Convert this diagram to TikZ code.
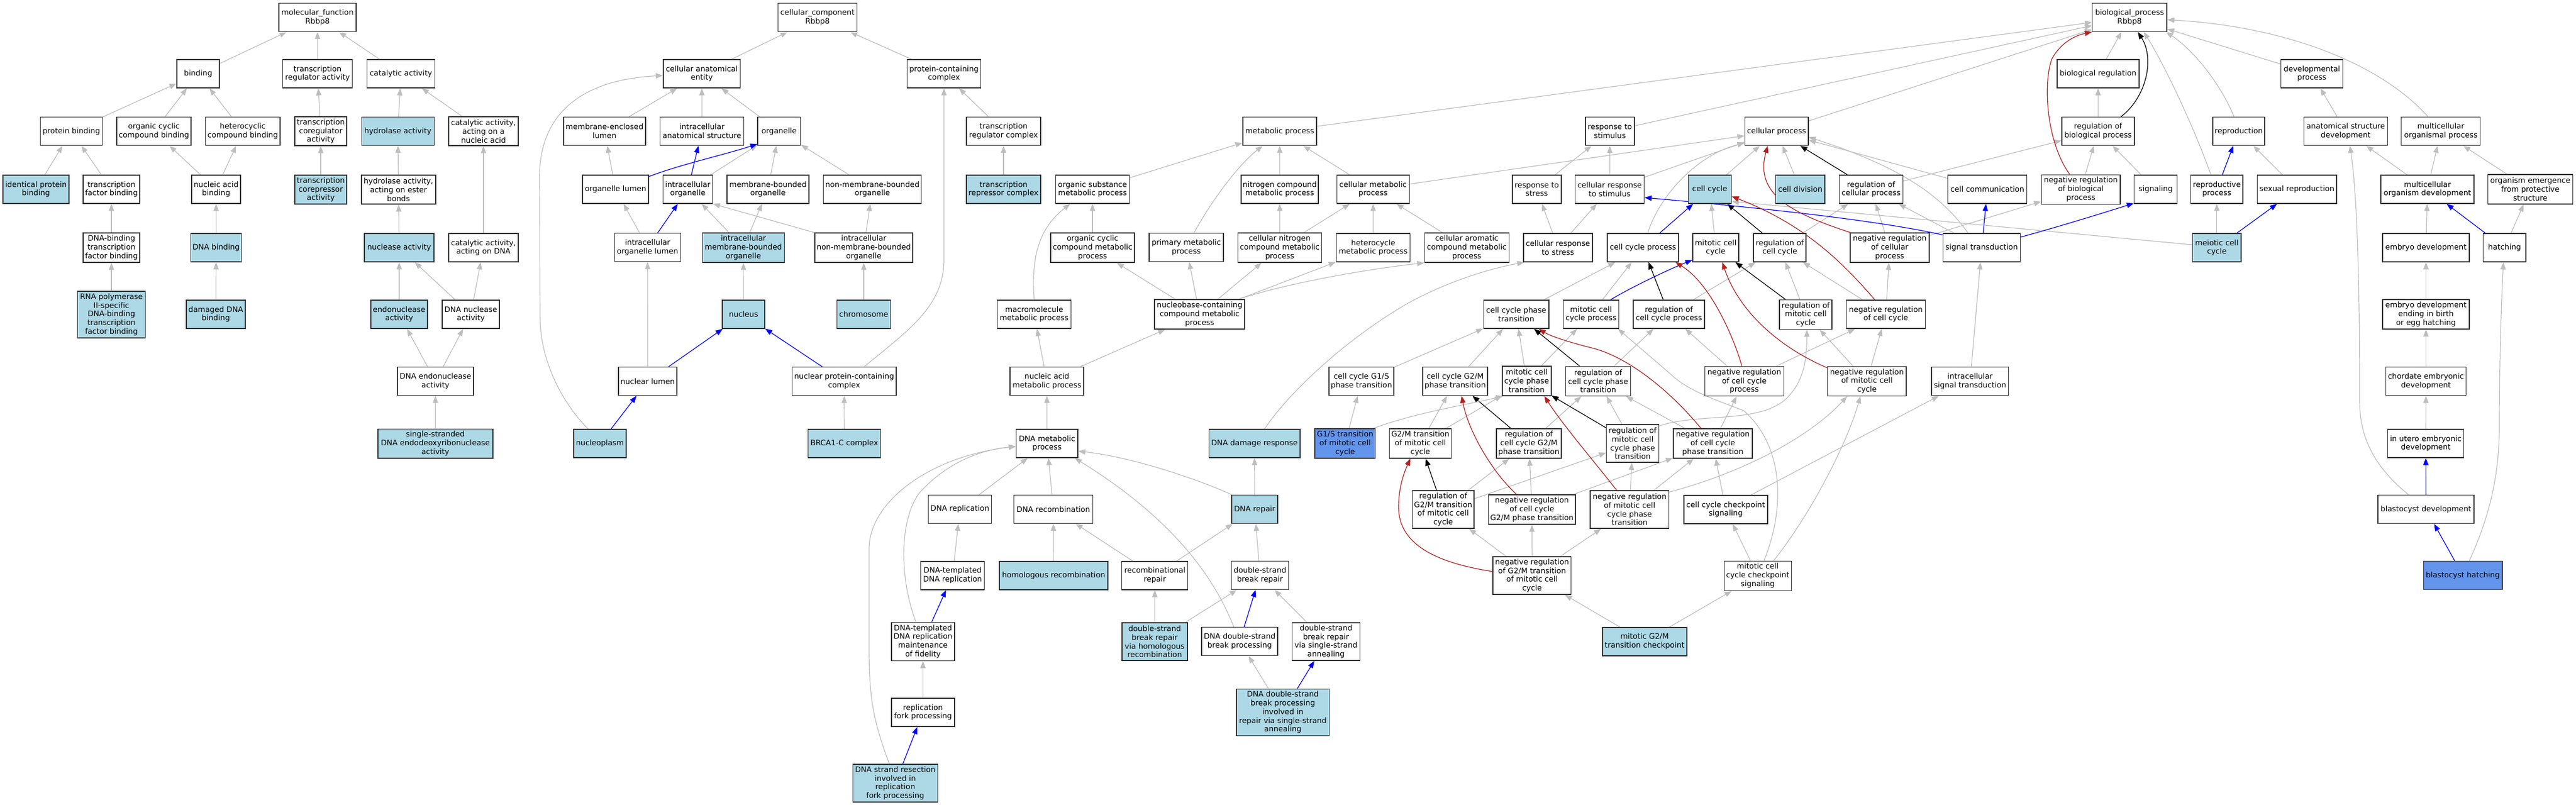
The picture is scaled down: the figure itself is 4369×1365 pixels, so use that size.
\documentclass[tikz,border=0pt]{standalone}
\usepackage{fontspec}
\setmainfont{DejaVu Sans}
\usetikzlibrary{arrows.meta,calc,backgrounds}
\definecolor{lbc}{HTML}{ADD8E6}
\definecolor{cfc}{HTML}{6495ED}
\definecolor{egc}{HTML}{BEBEBE}
\definecolor{fbc}{HTML}{B22222}
\definecolor{nbc}{HTML}{333333}
\tikzset{
 gobox/.style={draw=nbc, line width=1.4pt, rectangle, inner sep=0pt, align=center, font=\fontsize{12.8}{14.8}\selectfont},
 wt/.style={fill=white}, lbf/.style={fill=lbc}, cff/.style={fill=cfc},
 gtip/.style={-{Triangle[length=12pt,width=9pt]}},
 egray/.style={draw=egc, line width=1.2pt, gtip},
 eblue/.style={draw=blue, line width=1.2pt, gtip},
 eblack/.style={draw=black, line width=1.2pt, gtip},
 ered/.style={draw=fbc, line width=1.2pt, gtip},
}
\newcommand{\gn}[7]{\node[gobox,#6,minimum width=#4pt,minimum height=#5pt] (#1) at (#2,#3) {#7};}
\begin{document}
\begin{tikzpicture}[x=1pt,y=-1pt]
\useasboundingbox (0,0) rectangle (4369,1365);
% ---------- molecular function
\gn{mf}{538.5}{29.5}{131}{48}{wt}{molecular\_function\\Rbbp8}
\gn{bind}{336}{125}{72}{48}{wt}{binding}
\gn{tra}{538.5}{125}{118}{48}{wt}{transcription\\regulator activity}
\gn{cat}{680}{125}{115}{48}{wt}{catalytic activity}
\gn{pb}{121}{222.5}{104.5}{48}{wt}{protein binding}
\gn{occb}{261}{222.5}{126}{48}{wt}{organic cyclic\\compound binding}
\gn{hcb}{411.7}{222.5}{126.5}{48}{wt}{heterocyclic\\compound binding}
\gn{tcoa}{544}{222.5}{88}{49}{wt}{transcription\\coregulator\\activity}
\gn{hyd}{674.7}{222.5}{123}{48}{lbf}{hydrolase activity}
\gn{cana}{820}{222.5}{118}{49}{wt}{catalytic activity,\\acting on a\\nucleic acid}
\gn{ipb}{61}{321}{112}{48}{lbf}{identical protein\\binding}
\gn{tfb}{189}{321}{96}{48}{wt}{transcription\\factor binding}
\gn{nab}{366.5}{321}{83}{48}{wt}{nucleic acid\\binding}
\gn{tcra}{544}{321.5}{88}{49}{lbf}{transcription\\corepressor\\activity}
\gn{hyde}{675.8}{321.5}{126}{49}{wt}{hydrolase activity,\\acting on ester\\bonds}
\gn{dtfb}{189}{420}{96}{50}{wt}{DNA-binding\\transcription\\factor binding}
\gn{dnab}{366.6}{420}{86}{48}{lbf}{DNA binding}
\gn{nuca}{677}{420}{118}{48}{lbf}{nuclease activity}
\gn{cad}{820}{420}{118}{48}{wt}{catalytic activity,\\acting on DNA}
\gn{rnap}{189}{533.3}{115}{79}{lbf}{RNA polymerase\\II-specific\\DNA-binding\\transcription\\factor binding}
\gn{ddb}{366}{533}{100}{48}{lbf}{damaged DNA\\binding}
\gn{endo}{677}{533}{96}{48}{lbf}{endonuclease\\activity}
\gn{dnuc}{798.5}{533}{97}{48}{wt}{DNA nuclease\\activity}
\gn{dendo}{738.5}{646.5}{129}{48}{wt}{DNA endonuclease\\activity}
\gn{ssde}{738.4}{752}{195}{49.6}{lbf}{single-stranded\\DNA endodeoxyribonuclease\\activity}
% ---------- cellular component
\gn{cc}{1386.5}{29.5}{134}{48}{wt}{cellular\_component\\Rbbp8}
\gn{cae}{1190.3}{125}{130.6}{48}{wt}{cellular anatomical\\entity}
\gn{pcc}{1601}{125}{125.5}{48}{wt}{protein-containing\\complex}
\gn{mel}{1025.3}{222.5}{139}{48}{wt}{membrane-enclosed\\lumen}
\gn{ias}{1190.5}{222.5}{142}{48}{wt}{intracellular\\anatomical structure}
\gn{org}{1321.4}{222.5}{72.5}{48}{wt}{organelle}
\gn{trc}{1702}{222.5}{126}{48}{wt}{transcription\\regulator complex}
\gn{orgl}{1044}{321}{112}{48}{wt}{organelle lumen}
\gn{io}{1166.6}{321}{84}{48}{wt}{intracellular\\organelle}
\gn{mbo}{1302.5}{321}{139}{48}{wt}{membrane-bounded\\organelle}
\gn{nmbo}{1479.6}{321}{166}{48}{wt}{non-membrane-bounded\\organelle}
\gn{trepc}{1702}{321}{126}{48}{lbf}{transcription\\repressor complex}
\gn{iol}{1098.3}{419.6}{112}{48}{wt}{intracellular\\organelle lumen}
\gn{imbo}{1260.8}{420}{139}{50}{lbf}{intracellular\\membrane-bounded\\organelle}
\gn{inmbo}{1465}{420}{166}{50}{wt}{intracellular\\non-membrane-bounded\\organelle}
\gn{nucl}{1261}{533}{72}{48}{lbf}{nucleus}
\gn{chrom}{1465}{533}{91}{48}{lbf}{chromosome}
\gn{nlum}{1098.5}{646.5}{99}{48}{wt}{nuclear lumen}
\gn{npcc}{1431.7}{646.6}{176.6}{48}{wt}{nuclear protein-containing\\complex}
\gn{npl}{1017.4}{752}{89}{48}{lbf}{nucleoplasm}
\gn{brca}{1432}{752}{123}{48}{lbf}{BRCA1-C complex}
% ---------- metabolic / DNA
\gn{met}{2170.5}{222.5}{125}{48}{wt}{metabolic process}
\gn{osm}{1853}{321}{125.5}{48}{wt}{organic substance\\metabolic process}
\gn{ncm}{2170.5}{321}{131}{48}{wt}{nitrogen compound\\metabolic process}
\gn{cmp}{2328.8}{321}{123}{48}{wt}{cellular metabolic\\process}
\gn{occm}{1853}{420}{142}{50}{wt}{organic cyclic\\compound metabolic\\process}
\gn{pmp}{2012}{419.6}{126}{48}{wt}{primary metabolic\\process}
\gn{cncm}{2170.4}{420}{142}{50}{wt}{cellular nitrogen\\compound metabolic\\process}
\gn{hmp}{2329}{420}{125.5}{48}{wt}{heterocycle\\metabolic process}
\gn{cacm}{2487.7}{420}{143}{50}{wt}{cellular aromatic\\compound metabolic\\process}
\gn{mmp}{1754}{533}{125.5}{48}{wt}{macromolecule\\metabolic process}
\gn{nbcm}{2034.6}{533}{153}{50}{wt}{nucleobase-containing\\compound metabolic\\process}
\gn{nam}{1775.6}{646.6}{125}{48}{wt}{nucleic acid\\metabolic process}
\gn{dmp}{1775.8}{752}{104.5}{48}{wt}{DNA metabolic\\process}
\gn{ddr}{2127.7}{752}{154.5}{48}{lbf}{DNA damage response}
\gn{drep}{1628}{863.3}{107}{48}{wt}{DNA replication}
\gn{drec}{1786.5}{863.3}{134}{48}{wt}{DNA recombination}
\gn{drepair}{2128}{863.6}{78}{48}{lbf}{DNA repair}
\gn{dtdr}{1615.6}{975.8}{108}{48}{wt}{DNA-templated\\DNA replication}
\gn{hr}{1787}{975.8}{184}{48}{lbf}{homologous recombination}
\gn{rr}{1958.7}{975.8}{112}{48}{wt}{recombinational\\repair}
\gn{dsbr}{2137}{975.6}{96.5}{48}{wt}{double-strand\\break repair}
\gn{dtmf}{1565.4}{1087.7}{107}{65}{wt}{DNA-templated\\DNA replication\\maintenance\\of fidelity}
\gn{dsbhr}{1958.4}{1088}{111}{64}{lbf}{double-strand\\break repair\\via homologous\\recombination}
\gn{dsbp}{2102.5}{1087.6}{129}{48}{wt}{DNA double-strand\\break processing}
\gn{dsbssa}{2249}{1088}{115}{64}{wt}{double-strand\\break repair\\via single-strand\\annealing}
\gn{rfp}{1565.4}{1208}{107}{48}{wt}{replication\\fork processing}
\gn{dsbpssa}{2175.7}{1207.8}{157.6}{79}{lbf}{DNA double-strand\\break processing\\involved in\\repair via single-strand\\annealing}
\gn{dsr}{1518.4}{1328}{144}{64}{lbf}{DNA strand resection\\involved in\\replication\\fork processing}
% ---------- biological process
\gn{bp}{3611.8}{29.5}{126.4}{48}{wt}{biological\_process\\Rbbp8}
\gn{breg}{3558.4}{125}{139}{48}{wt}{biological regulation}
\gn{rbp}{3558.4}{222.5}{123}{48}{wt}{regulation of\\biological process}
\gn{cp}{3013.1}{222.5}{107.6}{48}{wt}{cellular process}
\gn{rs}{2730.4}{222.5}{83}{48}{wt}{response to\\stimulus}
\gn{rstress}{2606.4}{321}{83}{48}{wt}{response to\\stress}
\gn{crs}{2730}{321}{117}{48}{wt}{cellular response\\to stimulus}
\gn{ccyc}{2899.8}{321}{73}{48}{lbf}{cell cycle}
\gn{cdiv}{3053.3}{321}{83.7}{48}{lbf}{cell division}
\gn{rcp}{3173.4}{321}{107.6}{48}{wt}{regulation of\\cellular process}
\gn{ccom}{3370.7}{321}{134}{48}{wt}{cell communication}
\gn{nrbp}{3529.2}{321.2}{133.5}{50}{wt}{negative regulation\\of biological\\process}
\gn{sig}{3656}{321}{72.6}{48}{wt}{signaling}
\gn{crstress}{2642.3}{420}{117}{48}{wt}{cellular response\\to stress}
\gn{ccp}{2786.5}{420}{121}{48}{wt}{cell cycle process}
\gn{mcc}{2910}{420}{78}{48}{wt}{mitotic cell\\cycle}
\gn{rcc}{3018.6}{420}{89}{48}{wt}{regulation of\\cell cycle}
\gn{nrcp}{3205}{420}{134}{50}{wt}{negative regulation\\of cellular\\process}
\gn{st}{3361}{420}{131}{48}{wt}{signal transduction}
\gn{ccpt}{2571.6}{533}{110.7}{48}{wt}{cell cycle phase\\transition}
\gn{mccp}{2698.5}{533}{94}{48}{wt}{mitotic cell\\cycle process}
\gn{rccp}{2830.5}{533}{121}{48}{wt}{regulation of\\cell cycle process}
\gn{rmcc}{3062.6}{533.3}{89}{50}{wt}{regulation of\\mitotic cell\\cycle}
\gn{nrcc}{3198.4}{533}{134}{48}{wt}{negative regulation\\of cell cycle}
\gn{g1s}{2309}{646.6}{110}{48}{wt}{cell cycle G1/S\\phase transition}
\gn{g2m}{2468}{646.6}{110}{48}{wt}{cell cycle G2/M\\phase transition}
\gn{mccpt}{2589.3}{646}{83}{50}{wt}{mitotic cell\\cycle phase\\transition}
\gn{rccpt}{2710.5}{646.3}{110}{50}{wt}{regulation of\\cell cycle phase\\transition}
\gn{nrccp}{2958.3}{646.5}{134}{50}{wt}{negative regulation\\of cell cycle\\process}
\gn{nrmcc}{3166.3}{646.3}{133.5}{50}{wt}{negative regulation\\of mitotic cell\\cycle}
\gn{ist}{3341.3}{646.6}{130.6}{48}{wt}{intracellular\\signal transduction}
\gn{g1smcc}{2281.4}{752}{102.6}{50}{cff}{G1/S transition\\of mitotic cell\\cycle}
\gn{g2mmcc}{2409}{752}{105}{50}{wt}{G2/M transition\\of mitotic cell\\cycle}
\gn{rccg2m}{2593}{752}{110}{50}{wt}{regulation of\\cell cycle G2/M\\phase transition}
\gn{rmccpt}{2769}{752}{88.8}{64}{wt}{regulation of\\mitotic cell\\cycle phase\\transition}
\gn{nrccpt}{2905}{752}{134}{50}{wt}{negative regulation\\of cell cycle\\phase transition}
\gn{rg2m}{2447.7}{864}{104.6}{64}{wt}{regulation of\\G2/M transition\\of mitotic cell\\cycle}
\gn{nrccg2m}{2598.2}{864}{147.5}{50}{wt}{negative regulation\\of cell cycle\\G2/M phase transition}
\gn{nrmccpt}{2763.8}{864}{133.7}{64}{wt}{negative regulation\\of mitotic cell\\cycle phase\\transition}
\gn{cccs}{2926.8}{864}{142}{48}{wt}{cell cycle checkpoint\\signaling}
\gn{nrg2m}{2598.4}{976}{132.7}{64}{wt}{negative regulation\\of G2/M transition\\of mitotic cell\\cycle}
\gn{mcccs}{2981.2}{976.2}{114}{50}{wt}{mitotic cell\\cycle checkpoint\\signaling}
\gn{mg2mc}{2789.3}{1087.8}{143}{48}{lbf}{mitotic G2/M\\transition checkpoint}
% ---------- right part
\gn{dev}{3921}{125}{104.5}{48}{wt}{developmental\\process}
\gn{repro}{3796.9}{222.5}{87.8}{48}{wt}{reproduction}
\gn{asd}{3978.4}{222.5}{141.7}{48}{wt}{anatomical structure\\development}
\gn{mop}{4139.7}{222.5}{134}{48}{wt}{multicellular\\organismal process}
\gn{rproc}{3759.8}{321}{88.3}{48}{wt}{reproductive\\process}
\gn{sexr}{3895.7}{321}{134.4}{48}{wt}{sexual reproduction}
\gn{mod}{4117}{321}{158}{48}{wt}{multicellular\\organism development}
\gn{oe}{4291.5}{321}{144}{50}{wt}{organism emergence\\from protective\\structure}
\gn{mei}{3759.8}{420}{82.4}{48}{lbf}{meiotic cell\\cycle}
\gn{emb}{4114.5}{420}{147}{48}{wt}{embryo development}
\gn{hatch}{4247.8}{420}{72.6}{48}{wt}{hatching}
\gn{embb}{4114.5}{533}{147}{50}{wt}{embryo development\\ending in birth\\or egg hatching}
\gn{chord}{4114.5}{646.6}{136}{48}{wt}{chordate embryonic\\development}
\gn{utero}{4114.2}{752}{129}{48}{wt}{in utero embryonic\\development}
\gn{blast}{4114.5}{863.6}{163}{48}{wt}{blastocyst development}
\gn{bhatch}{4177}{975.6}{133.7}{48}{cff}{blastocyst hatching}
% ================= edges
\begin{scope}[on background layer]
\fill[white] (0,0) rectangle (4369,1365);
% gray straight edges
\foreach \a/\b in {bind/mf,tra/mf,cat/mf,pb/bind,occb/bind,hcb/bind,tcoa/tra,hyd/cat,cana/cat,ipb/pb,tfb/pb,nab/occb,nab/hcb,tcra/tcoa,hyde/hyd,dtfb/tfb,dnab/nab,nuca/hyde,cad/cana,rnap/dtfb,ddb/dnab,endo/nuca,dnuc/nuca,dnuc/cad,dendo/endo,dendo/dnuc,ssde/dendo,
 cae/cc,pcc/cc,mel/cae,ias/cae,org/cae,trc/pcc,orgl/mel,io/org,mbo/org,nmbo/org,trepc/trc,iol/orgl,imbo/io,imbo/mbo,inmbo/nmbo,nucl/imbo,chrom/inmbo,nlum/iol,brca/npcc,
 osm/met,ncm/met,cmp/met,occm/osm,cncm/ncm,cncm/cmp,hmp/cmp,cacm/cmp,nbcm/occm,nbcm/pmp,nbcm/cncm,nbcm/hmp,nam/mmp,nam/nbcm,dmp/nam,met/bp,
 drep/dmp,drec/dmp,dtdr/drep,hr/drec,rr/drec,rr/drepair,dsbr/drepair,dsbhr/rr,dsbhr/dsbr,dsbssa/dsbr,rfp/dtmf,dsbpssa/dsbp,drepair/ddr,
 rs/bp,cp/bp,breg/bp,dev/bp,rbp/breg,cmp/cp,crs/cp,ccyc/cp,cdiv/cp,ccom/cp,rcp/rbp,nrbp/rbp,sig/rbp,rstress/rs,crs/rs,crstress/rstress,crstress/crs,mcc/ccyc,
 rcc/rcp,nrcp/rcp,nrcp/nrbp,st/rcp,rmcc/rcc,nrcc/rcc,nrcc/nrcp,ist/st,nrmcc/rmcc,nrmcc/nrcc,nrccp/rccp,nrccp/nrcc,ccpt/ccp,mccp/ccp,rccp/rcc,
 g1s/ccpt,g2m/ccpt,mccpt/ccpt,mccpt/mccp,rccpt/rccp,mcccs/cccs,cccs/nrccpt,g1smcc/g1s,g2mmcc/g2m,g2mmcc/mccpt,rccg2m/rccpt,rmccpt/rccpt,nrccpt/rccpt,nrccpt/nrccp,
 rg2m/rccg2m,rg2m/rmccpt,nrccg2m/rccg2m,nrccg2m/nrccpt,nrmccpt/rmccpt,nrmccpt/nrccpt,nrg2m/rg2m,nrg2m/nrccg2m,nrg2m/nrmccpt,mg2mc/nrg2m,mg2mc/mcccs,
 asd/dev,mod/asd,mod/mop,oe/mop,sexr/repro,mei/rproc,emb/mod,hatch/oe,embb/emb,chord/embb,utero/chord}
 {\draw[egray] (\a) -- (\b);}
% blue straight edges
\foreach \a/\b in {io/ias,iol/io,nlum/nucl,npcc/nucl,npl/nlum,dtmf/dtdr,dsbp/dsbr,dsbpssa/dsbssa,dsr/rfp,ccp/ccyc,st/ccom,rproc/repro,mei/sexr,hatch/mod,blast/utero,bhatch/blast}
 {\draw[eblue] (\a) -- (\b);}
% black straight edges
\foreach \a/\b in {rcp/cp,rcc/ccyc,rmcc/mcc,rccp/ccp,rccpt/ccpt,rccg2m/g2m,rmccpt/mccpt,rg2m/g2mmcc}
 {\draw[eblack] (\a) -- (\b);}
% gray special / curved edges
\draw[egray] (inmbo.north west) -- (io.south east);
\draw[egray] ($(npl.north)+(-20,0)$) .. controls (960,690) and (917,620) .. (916,540) -- (915,300) .. controls (915,190) and (990,135) .. ($(cae.west)+(0,3)$);
\draw[egray] ($(npcc.north)+(34,0)$) .. controls (1540,560) and (1601,520) .. (1601,440) -- (pcc.south);
\draw[egray] (mmp.north) .. controls (1748,430) and (1765,385) .. ($(osm.south)+(-38,0)$);
\draw[egray] ($(pmp.north)+(13,0)$) .. controls (2055,340) and (2100,280) .. ($(met.south)+(-29,0)$);
\draw[egray] ($(nbcm.north)+(66,0)$) .. controls (2190,478) and (2330,455) .. (cacm.south west);
\draw[egray] ($(ddr.north)+(17,0)$) .. controls (2190,660) and (2290,570) .. (2390,513) .. controls (2460,475) and (2530,455) .. ($(crstress.south west)+(2,0)$);
\draw[egray] ($(drepair.north west)+(1,0)$) .. controls (2030,812) and (1920,775) .. ($(dmp.east)+(0,13)$);
\draw[egray] ($(dsbp.north)+(-10,0)$) .. controls (2060,980) and (1990,880) .. ($(dmp.south east)+(-6,0)$);
\draw[egray] ($(dtmf.north)+(-12,0)$) .. controls (1525,980) and (1525,880) .. (1560,835) .. controls (1610,780) and (1670,762) .. ($(dmp.west)+(0,5)$);
\draw[egray] ($(dsr.north)+(-10,0)$) .. controls (1480,1220) and (1474,1180) .. (1474,1100) -- (1474,930) .. controls (1474,855) and (1570,775) .. ($(dmp.west)+(0,5)$);
\draw[egray] ($(ccp.north)+(8,0)$) .. controls (2815,330) and (2880,262) .. ($(cp.west)+(0,20)$);
\draw[egray] ($(st.north)+(-23,0)$) .. controls (3295,335) and (3230,285) .. ($(cp.east)+(0,10)$);
\draw[egray] ($(mei.west)+(0,-5)$) -- ($(ccyc.south east)+(0,-4)$);
\draw[egray] ($(repro.north)+(-8,0)$) .. controls (3765,140) and (3720,85) .. ($(bp.south east)+(-2,0)$);
\draw[egray] ($(rproc.north)+(-10,0)$) .. controls (3715,200) and (3665,100) .. ($(bp.south)+(24,0)$);
\draw[egray] ($(mop.north)+(-22,0)$) .. controls (4040,110) and (3880,45) .. ($(bp.east)+(0,4)$);
\draw[egray] ($(blast.north)+(-29.5,0)$) .. controls (4025,790) and (4002,740) .. (4002,680) .. controls (4002,480) and (3998,330) .. ($(asd.south)+(7,0)$);
\draw[egray] ($(bhatch.north)+(11,0)$) .. controls (4225,870) and (4239,800) .. (4239,720) .. controls (4239,600) and (4243,500) .. ($(hatch.south)+(-2,0)$);
\draw[egray] ($(mcccs.north)+(10.6,0)$) .. controls (3025,870) and (3030,760) .. (2957,696) .. controls (2900,675) and (2860,660) .. (2833,634) -- ($(mccp.south east)+(-2,0)$);
\draw[egray] ($(mcccs.north)+(27,0)$) .. controls (3065,880) and (3130,760) .. ($(nrmcc.south)+(-11,0)$);
\draw[egray] ($(nrmccpt.north east)+(0,3)$) .. controls (2960,800) and (3070,740) .. ($(nrmcc.south west)+(34,0)$);
\draw[egray] ($(cccs.north)+(43,0)$) -- ($(ist.south west)+(13,0)$);
\draw[egray] ($(rmccpt.north east)+(0,3)$) .. controls (2880,700) and (2975,718) .. (3025,680) .. controls (3060,650) and (3064,610) .. ($(rmcc.south)+(2,0)$);
\draw[egray] ($(g1smcc.north east)+(-4,0)$) .. controls (2400,700) and (2480,688) .. ($(mccpt.south west)+(2,0)$);
% blue curved
\draw[eblue] ($(orgl.north east)+(0,3)$) .. controls (1150,280) and (1230,262) .. ($(org.south west)+(0,-3)$);
\draw[eblue] ($(st.north west)+(0,3)$) .. controls (3160,368) and (2900,345) .. ($(crs.east)+(0,14)$);
\draw[eblue] ($(st.east)+(0,-18)$) .. controls (3500,382) and (3570,360) .. ($(sig.south west)+(0,-1)$);
\draw[eblue] ($(mccp.north)+(33,0)$) .. controls (2770,485) and (2835,455) .. ($(mcc.south west)+(0,-4)$);
% black curved
\draw[eblack] ($(rbp.north)+(39,0)$) .. controls (3640,165) and (3655,100) .. ($(bp.south)+(14,0)$);
% red curved
\draw[ered] ($(nrbp.north)+(-19,0)$) .. controls (3470,240) and (3465,140) .. (3480,100) .. controls (3495,72) and (3520,60) .. (bp.south west);
\draw[ered] ($(nrcp.north west)+(1,0)$) .. controls (3040,362) and (2975,330) .. ($(cp.south)+(-15,0)$);
\draw[ered] ($(nrcc.north)+(-18.6,0)$) .. controls (3125,445) and (3060,380) .. ($(ccyc.east)+(0,12)$);
\draw[ered] ($(nrmcc.north west)+(0,3)$) .. controls (3020,590) and (2950,530) .. ($(mcc.south)+(11,0)$);
\draw[ered] ($(nrccp.north)+(-4,0)$) .. controls (2940,570) and (2900,480) .. ($(ccp.south east)+(-6,0)$);
\draw[ered] ($(nrccpt.north)+(-20,0)$) .. controls (2830,660) and (2760,605) .. (2700,590) .. controls (2660,580) and (2630,570) .. ($(ccpt.south east)+(-18,0)$);
\draw[ered] ($(nrccg2m.north)+(-26,0)$) .. controls (2530,800) and (2490,730) .. ($(g2m.south)+(11,0)$);
\draw[ered] ($(nrmccpt.north)+(-22,0)$) .. controls (2710,790) and (2650,720) .. ($(mccpt.south)+(30,0)$);
\draw[ered] ($(nrg2m.west)+(0,-7)$) .. controls (2440,955) and (2372,925) .. (2372,860) .. controls (2372,825) and (2382,800) .. ($(g2mmcc.south)+(-17,0)$);
\end{scope}
\end{tikzpicture}
\end{document}
